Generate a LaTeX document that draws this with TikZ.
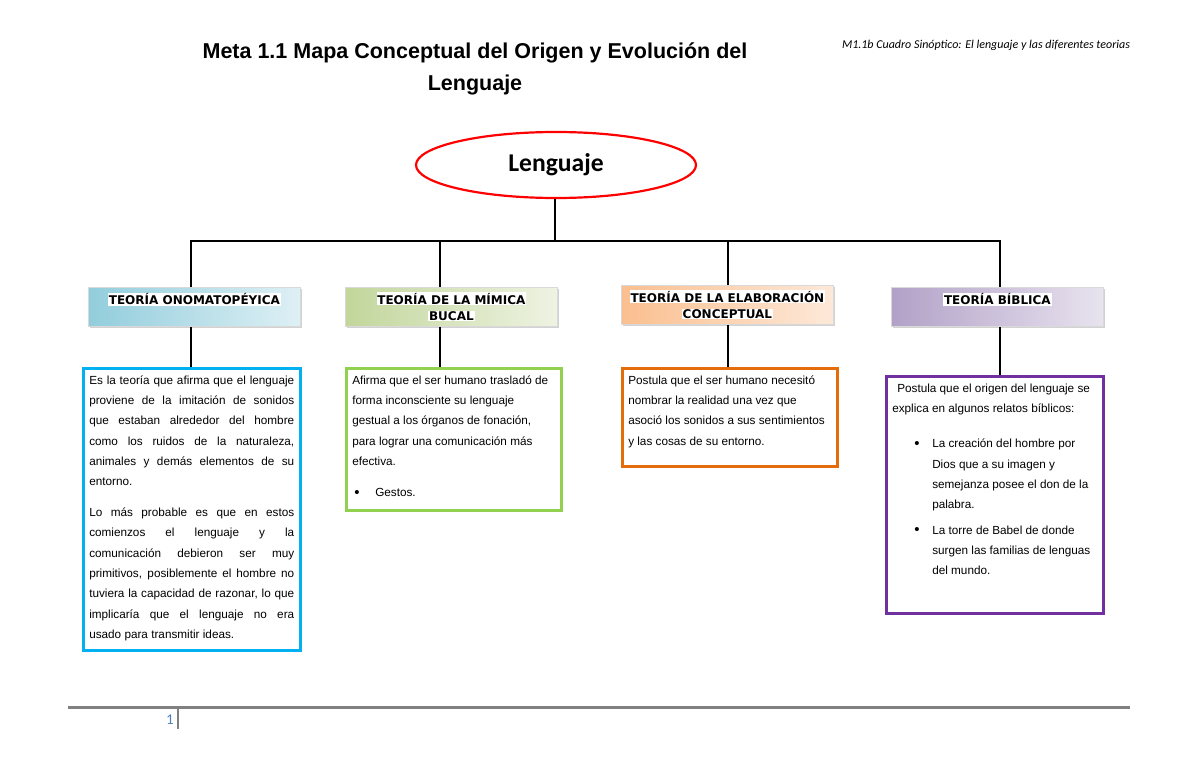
\documentclass[tikz,border=0pt]{standalone}
\usepackage{fontspec}
\setmainfont{Liberation Sans}
\newfontfamily\calibri{Carlito}
\newfontfamily\verdana{DejaVu Sans}
\usetikzlibrary{shapes.geometric,shadows,positioning}

\definecolor{bordeazul}{RGB}{0,176,240}
\definecolor{bordeverde}{RGB}{146,208,80}
\definecolor{bordenaranja}{RGB}{228,108,10}
\definecolor{bordemorado}{RGB}{112,48,160}
\definecolor{azulA}{RGB}{146,205,220}
\definecolor{azulB}{RGB}{222,240,245}
\definecolor{verdeA}{RGB}{194,214,155}
\definecolor{verdeB}{RGB}{238,243,226}
\definecolor{naranjaA}{RGB}{250,191,143}
\definecolor{naranjaB}{RGB}{253,233,217}
\definecolor{moradoA}{RGB}{178,161,199}
\definecolor{moradoB}{RGB}{232,227,239}
\definecolor{numpag}{RGB}{79,129,189}

\hyphenpenalty=10000
\exhyphenpenalty=10000

\newcommand{\resalta}[1]{{\setlength{\fboxsep}{0.8pt}\colorbox{white}{#1}}}
\newcommand{\punto}{\raisebox{-0.8pt}{\fontsize{15}{15}\selectfont\textbullet}}

\tikzset{
	conector/.style={draw=black, line width=2.5pt},
	teoria/.style={rectangle, anchor=north west, minimum width=212pt, minimum height=39pt,
		inner sep=2pt, align=center, draw=black!15, line width=0.8pt,
		font=\verdana\bfseries\fontsize{12}{16}\selectfont,
		drop shadow={shadow xshift=2pt, shadow yshift=-2pt, fill=black!35}},
	detalle/.style={rectangle, anchor=north west, draw=#1, line width=2.5pt, fill=white,
		inner xsep=6pt, inner ysep=3pt, font=\fontsize{11.75}{20.3}\selectfont},
}

\begin{document}
\begin{tikzpicture}[x=1pt, y=-1pt]
	\useasboundingbox (0,0) rectangle (1200,776);

	\node[font=\calibri\itshape\fontsize{12}{14}\selectfont] (cabecera) at (986,45)
		{M1.1b Cuadro Sinóptico: El lenguaje y las diferentes teorias};
	\node[align=center, font=\bfseries\fontsize{21.5}{32}\selectfont] (titulo) at (475,69)
		{Meta 1.1 Mapa Conceptual del Origen y Evolución del\\Lenguaje};

	\node[ellipse, draw=red, line width=2.2pt, fill=white, minimum width=280pt, minimum height=66pt,
		font=\calibri\bfseries\fontsize{25.6}{30}\selectfont] (leng) at (556,165) {Lenguaje};

	\node[teoria, left color=azulA, right color=azulB] (h1) at (88,287)
		{\resalta{TEORÍA ONOMATOPÉYICA}\\\mbox{}};
	\node[teoria, left color=verdeA, right color=verdeB] (h2) at (345,287)
		{\resalta{TEORÍA DE LA MÍMICA}\\\resalta{BUCAL}};
	\node[teoria, left color=naranjaA, right color=naranjaB] (h3) at (621,285)
		{\resalta{TEORÍA DE LA ELABORACIÓN}\\\resalta{CONCEPTUAL}};
	\node[teoria, left color=moradoA, right color=moradoB] (h4) at (891,287)
		{\resalta{TEORÍA BÍBLICA}\\\mbox{}};

	\node[detalle=bordeazul] (d1) at (82,367) {\begin{minipage}[t][276pt][t]{205pt}\sloppy
		\rule{0pt}{13pt}Es la teoría que afirma que el lenguaje\linebreak
		proviene de la imitación de sonidos\linebreak
		que estaban alrededor del hombre\linebreak
		como los ruidos de la naturaleza,\linebreak
		animales y demás elementos de su\linebreak
		entorno.\par\vspace{10.5pt}
		Lo más probable es que en estos\linebreak
		comienzos el lenguaje y la\linebreak
		comunicación debieron ser muy\linebreak
		primitivos, posiblemente el hombre no\linebreak
		tuviera la capacidad de razonar, lo que\linebreak
		implicaría que el lenguaje no era\linebreak
		usado para transmitir ideas.
		\end{minipage}};
	\node[detalle=bordeverde] (d2) at (345,367) {\begin{minipage}[t][136pt][t]{203pt}\raggedright
		\rule{0pt}{13pt}Afirma que el ser humano trasladó de\\
		forma inconsciente su lenguaje\\
		gestual a los órganos de fonación,\\
		para lograr una comunicación más\\
		efectiva.\par\vspace{10.5pt}
		\hspace*{2pt}\makebox[21pt][l]{\punto}Gestos.
		\end{minipage}};
	\node[detalle=bordenaranja] (d3) at (621,367) {\begin{minipage}[t][92pt][t]{203pt}\raggedright
		\rule{0pt}{13pt}Postula que el ser humano necesitó\\
		nombrar la realidad una vez que\\
		asoció los sonidos a sus sentimientos\\
		y las cosas de su entorno.
		\end{minipage}};
	\node[detalle=bordemorado] (d4) at (885,375) {\begin{minipage}[t][231pt][t]{205pt}\raggedright
		\rule{0pt}{13pt}\hspace*{5pt}Postula que el origen del lenguaje se\\
		explica en algunos relatos bíblicos:\par\vspace{15pt}
		\hspace*{22pt}\makebox[18pt][l]{\punto}La creación del hombre por\\
		\hspace*{40pt}Dios que a su imagen y\\
		\hspace*{40pt}semejanza posee el don de la\\
		\hspace*{40pt}palabra.\par\vspace{5pt}
		\hspace*{22pt}\makebox[18pt][l]{\punto}La torre de Babel de donde\\
		\hspace*{40pt}surgen las familias de lenguas\\
		\hspace*{40pt}del mundo.
		\end{minipage}};

	\coordinate (barra) at (555,241);
	\coordinate (c1) at (191,241);
	\coordinate (c2) at (440,241);
	\coordinate (c3) at (728,241);
	\coordinate (c4) at (1000,241);
	\draw[conector] (leng.south -| barra) -- (barra);
	\draw[conector] (h1.north -| c1) -- (c1) -- (c4) -- (h4.north -| c4);
	\draw[conector] (c2) -- (h2.north -| c2);
	\draw[conector] (c3) -- (h3.north -| c3);
	\foreach \i in {1,...,4}
		\draw[conector] (h\i.south -| c\i) -- (d\i.north -| c\i);

	\draw[draw=black!50, line width=3pt] (68,707) -- (1130,707);
	\draw[draw=black!50, line width=1.5pt] (178,708) -- (178,729);
	\node[text=numpag, font=\calibri\fontsize{15}{15}\selectfont] (pagina) at (170,720) {1};
\end{tikzpicture}
\end{document}
